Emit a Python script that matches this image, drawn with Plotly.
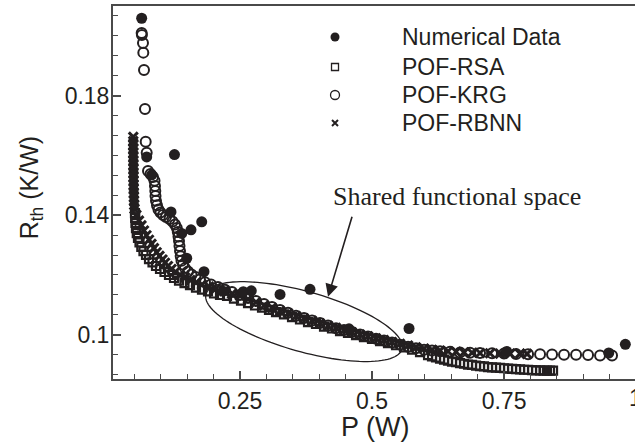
import numpy as np
import plotly.graph_objects as go

# ---------------- data ----------------
num_p = [0.0638, 0.0733, 0.1259, 0.0828, 0.1193, 0.1775, 0.1572, 0.1396, 0.1491, 0.1818,
         0.2178, 0.2563, 0.2714, 0.3258, 0.3826, 0.4564, 0.5701, 0.7551, 0.9483, 0.9797]
num_r = [0.2059, 0.1595, 0.1603, 0.1535, 0.1411, 0.1378, 0.1351, 0.1339, 0.1256, 0.1211,
         0.1146, 0.1144, 0.1147, 0.1135, 0.1152, 0.1020, 0.1021, 0.0944, 0.0939, 0.0968]

rsa_p = [0.0511, 0.0515, 0.0521, 0.0530, 0.0545, 0.0568, 0.0597, 0.0631, 0.0672, 0.0720,
         0.0777, 0.0843, 0.0909, 0.0985, 0.1070, 0.1155, 0.1250, 0.1345, 0.1449, 0.1553,
         0.1667, 0.1780, 0.1894, 0.2008, 0.2121, 0.2254, 0.2386, 0.2519, 0.2652, 0.2784,
         0.2917, 0.3049, 0.3182, 0.3333, 0.3485, 0.3636, 0.3788, 0.3939, 0.4091, 0.4242,
         0.4394, 0.4545, 0.4697, 0.4848, 0.5000, 0.5152, 0.5303, 0.5455, 0.5606, 0.5758,
         0.5909, 0.6061, 0.6212, 0.6364, 0.6515, 0.6667, 0.6818, 0.6970, 0.7121, 0.7273,
         0.7424, 0.7576, 0.7727, 0.7879, 0.8030, 0.8182, 0.8314, 0.8428,
         0.6136, 0.6288, 0.6439, 0.6591, 0.6742, 0.6894, 0.7045, 0.7197, 0.7348, 0.7500,
         0.7652, 0.7803, 0.7955, 0.8106, 0.8248, 0.8371]
rsa_r = [0.1407, 0.1391, 0.1374, 0.1357, 0.1340, 0.1324, 0.1309, 0.1294, 0.1280, 0.1267,
         0.1253, 0.1242, 0.1230, 0.1220, 0.1210, 0.1200, 0.1190, 0.1181, 0.1173, 0.1166,
         0.1158, 0.1151, 0.1145, 0.1138, 0.1133, 0.1130, 0.1121, 0.1114, 0.1106, 0.1098,
         0.1091, 0.1083, 0.1076, 0.1068, 0.1059, 0.1051, 0.1042, 0.1036, 0.1027, 0.1021,
         0.1012, 0.1006, 0.0999, 0.0992, 0.0986, 0.0979, 0.0972, 0.0965, 0.0958, 0.0950,
         0.0942, 0.0932, 0.0924, 0.0917, 0.0910, 0.0905, 0.0900, 0.0897, 0.0894, 0.0891,
         0.0889, 0.0887, 0.0885, 0.0883, 0.0882, 0.0881, 0.0880, 0.0880,
         0.0928, 0.0920, 0.0913, 0.0908, 0.0903, 0.0899, 0.0895, 0.0892, 0.0890, 0.0888,
         0.0886, 0.0884, 0.0883, 0.0881, 0.0880, 0.0880]

krg_p = [0.0638, 0.0642, 0.0663, 0.0669, 0.0682, 0.0701, 0.0714, 0.0733, 0.0758,
         0.0805, 0.0852, 0.0881, 0.0890, 0.0896, 0.0900, 0.0909, 0.0928, 0.0956, 0.0994,
         0.1042, 0.1098, 0.1165, 0.1222, 0.1269, 0.1303, 0.1322, 0.1335, 0.1345, 0.1354,
         0.1364, 0.1377, 0.1392, 0.1420, 0.1458, 0.1515, 0.1581, 0.1657, 0.1742, 0.1837,
         0.1951, 0.2083, 0.2216, 0.2348, 0.2500, 0.2652, 0.2803, 0.2955, 0.3106, 0.3258,
         0.3409, 0.3561, 0.3712, 0.3864, 0.4015, 0.4167, 0.4318, 0.4470, 0.4621, 0.4773,
         0.4924, 0.5076, 0.5227, 0.5379, 0.5530, 0.5682, 0.5833, 0.5985, 0.6136, 0.6288,
         0.6477, 0.6667, 0.6856, 0.7045, 0.7273, 0.7500, 0.7727, 0.7955, 0.8182, 0.8409,
         0.8636, 0.8864, 0.9091, 0.9318, 0.9545]
krg_r = [0.2010, 0.2003, 0.1976, 0.1944, 0.1886, 0.1755, 0.1646, 0.1609, 0.1548,
         0.1538, 0.1528, 0.1515, 0.1498, 0.1481, 0.1464, 0.1448, 0.1433, 0.1419, 0.1409,
         0.1401, 0.1394, 0.1387, 0.1379, 0.1369, 0.1357, 0.1344, 0.1329, 0.1314, 0.1297,
         0.1280, 0.1263, 0.1248, 0.1235, 0.1223, 0.1212, 0.1202, 0.1193, 0.1185, 0.1176,
         0.1168, 0.1160, 0.1151, 0.1143, 0.1133, 0.1123, 0.1113, 0.1103, 0.1093, 0.1083,
         0.1074, 0.1064, 0.1056, 0.1048, 0.1039, 0.1031, 0.1022, 0.1016, 0.1009, 0.1001,
         0.0994, 0.0987, 0.0981, 0.0974, 0.0967, 0.0960, 0.0955, 0.0950, 0.0947, 0.0945,
         0.0943, 0.0941, 0.0940, 0.0939, 0.0938, 0.0937, 0.0936, 0.0935, 0.0935, 0.0934,
         0.0933, 0.0933, 0.0932, 0.0931, 0.0931]

rbnn_p = [0.0479, 0.0479, 0.0479, 0.0479, 0.0479, 0.0481, 0.0481, 0.0481, 0.0483, 0.0483,
          0.0483, 0.0485, 0.0485, 0.0487, 0.0489, 0.0491, 0.0492, 0.0496,
          0.0502, 0.0538, 0.0587, 0.0634, 0.0682, 0.0729, 0.0777, 0.0824, 0.0871, 0.0922,
          0.0975, 0.1032, 0.1080, 0.1136, 0.1203, 0.1278, 0.1364, 0.1458, 0.1563, 0.1667,
          0.1780, 0.1913, 0.2045, 0.2197, 0.2348, 0.2500,
          0.2652, 0.2803, 0.2955, 0.3106, 0.3258,
          0.3409, 0.3561, 0.3712, 0.3864, 0.4015, 0.4167, 0.4318, 0.4470, 0.4621, 0.4773,
          0.4924, 0.5076, 0.5227, 0.5379, 0.5530, 0.5682, 0.5833, 0.5985, 0.6136, 0.6288,
          0.6439, 0.6591, 0.6742, 0.6894, 0.7045, 0.7235, 0.7424, 0.7614, 0.7803, 0.7936]
rbnn_r = [0.1662, 0.1648, 0.1635, 0.1622, 0.1608, 0.1595, 0.1582, 0.1568, 0.1555, 0.1541,
          0.1528, 0.1515, 0.1501, 0.1488, 0.1474, 0.1461, 0.1448, 0.1434,
          0.1421, 0.1401, 0.1382, 0.1366, 0.1349, 0.1333, 0.1318, 0.1304, 0.1290, 0.1276,
          0.1264, 0.1252, 0.1241, 0.1230, 0.1220, 0.1211, 0.1201, 0.1192, 0.1183, 0.1175,
          0.1168, 0.1161, 0.1155, 0.1146, 0.1137, 0.1130,
          0.1119, 0.1109, 0.1098, 0.1090, 0.1080,
          0.1072, 0.1063, 0.1055, 0.1047, 0.1038, 0.1030, 0.1023, 0.1015, 0.1008, 0.1001,
          0.0995, 0.0988, 0.0982, 0.0976, 0.0970, 0.0964, 0.0958, 0.0954, 0.0950, 0.0947,
          0.0945, 0.0943, 0.0941, 0.0940, 0.0939, 0.0938, 0.0937, 0.0937, 0.0937, 0.0936]

series_names = ["Numerical Data", "POF-RSA", "POF-KRG", "POF-RBNN"]
x_tickvals = [0.25, 0.5, 0.75]
x_ticktext = ["0.25", "0.5", "0.75"]
y_tickvals = [0.1, 0.14, 0.18]
y_ticktext = ["0.1", "0.14", "0.18"]

# ---------------- styles ----------------
INK = "#231f20"
AX = "#4a4a4a"
FONT = "Liberation Sans, Arial, sans-serif"
SERIF = "Liberation Serif, Times New Roman, serif"

styles = {
    "Numerical Data": dict(symbol="circle", size=11, color=INK, line=dict(width=0)),
    "POF-RSA": dict(symbol="square-open", size=8, color=INK, line=dict(width=2.2, color=INK)),
    "POF-KRG": dict(symbol="circle-open", size=10, color=INK, line=dict(width=2.0, color=INK)),
    "POF-RBNN": dict(symbol="x-thin", size=9, color=INK, line=dict(width=3.0, color=INK)),
}
legend_styles = {
    "Numerical Data": dict(symbol="circle", size=9, color=INK, line=dict(width=0)),
    "POF-RSA": dict(symbol="square-open", size=7, color=INK, line=dict(width=1.3, color=INK)),
    "POF-KRG": dict(symbol="circle-open", size=9, color=INK, line=dict(width=1.3, color=INK)),
    "POF-RBNN": dict(symbol="x-thin", size=6, color=INK, line=dict(width=2, color=INK)),
}

fig = go.Figure()
for name, xs, ys in [("POF-RSA", rsa_p, rsa_r), ("POF-KRG", krg_p, krg_r),
                     ("POF-RBNN", rbnn_p, rbnn_r), ("Numerical Data", num_p, num_r)]:
    fig.add_trace(go.Scatter(x=xs, y=ys, mode="markers", name=name,
                             marker=styles[name], showlegend=False, hoverinfo="x+y+name"))

# hand-placed legend (overlay axes spanning the plot area, 0..1)
leg_x_sym = 0.4253
leg_x_txt = 0.5490
leg_rows = [0.917, 0.8365, 0.7614, 0.6863]
for name, yy in zip(series_names, leg_rows):
    fig.add_trace(go.Scatter(x=[leg_x_sym], y=[yy], xaxis="x2", yaxis="y2", mode="markers",
                             marker=legend_styles[name], showlegend=False, hoverinfo="skip"))
    fig.add_annotation(x=leg_x_txt, y=yy, xref="paper", yref="paper", text=name,
                       showarrow=False, xanchor="left", yanchor="middle",
                       font=dict(family=FONT, size=23, color=INK))

# ellipse marking the shared functional space
ell_c = (0.3712, 0.1044)
ell_a = (0.1856, -0.00921)
ell_b = (-0.01534, -0.00968)
t = np.linspace(0, 2 * np.pi, 121)
ex = ell_c[0] + np.cos(t) * ell_a[0] + np.sin(t) * ell_b[0]
ey = ell_c[1] + np.cos(t) * ell_a[1] + np.sin(t) * ell_b[1]
path = "M " + " L ".join(f"{a:.5f},{b:.5f}" for a, b in zip(ex, ey)) + " Z"
fig.add_shape(type="path", path=path, xref="x", yref="y",
              line=dict(color=INK, width=1.3), fillcolor="rgba(0,0,0,0)")

fig.add_annotation(x=0.4167, y=0.1127, ax=0.4630, ay=0.1400, xref="x", yref="y",
                   axref="x", ayref="y", text="", showarrow=True,
                   arrowhead=2, arrowsize=1.6, arrowwidth=1.6, arrowcolor=INK)
fig.add_annotation(x=0.661, y=0.1464, xref="x", yref="y", text="Shared functional space",
                   showarrow=False, font=dict(family=SERIF, size=26, color=INK))

# axis titles
fig.add_annotation(x=0.502, y=-0.128, xref="paper", yref="paper", text="P (W)",
                   showarrow=False, xanchor="center", yanchor="middle",
                   font=dict(family=FONT, size=27, color=INK))
fig.add_annotation(x=-0.157, y=0.514, xref="paper", yref="paper", text="R<sub>th</sub> (K/W)",
                   textangle=-90, showarrow=False, xanchor="center", yanchor="middle",
                   font=dict(family=FONT, size=25, color=INK))
# partially visible "1" tick label at the right edge
fig.add_annotation(x=1.0019, y=-0.051, xref="paper", yref="paper", text="1",
                   showarrow=False, xanchor="center", yanchor="middle",
                   font=dict(family=FONT, size=23, color=INK))

fig.update_layout(
    width=635, height=446,
    margin=dict(l=113, r=0, t=6, b=67, autoexpand=False),
    paper_bgcolor="white", plot_bgcolor="white",
    font=dict(family=FONT, size=23, color=INK),
    showlegend=False,
    xaxis=dict(range=[0.0095, 0.998], tickvals=x_tickvals, ticktext=x_ticktext,
               ticks="inside", ticklen=8, tickwidth=1.5, tickcolor=AX,
               showline=True, linecolor=AX, linewidth=2, mirror=True,
               showgrid=False, zeroline=False, automargin=False,
               minor=dict(dtick=0.05, tick0=0, ticks="inside", ticklen=5,
                          tickwidth=1.2, tickcolor=AX, showgrid=False),
               tickfont=dict(size=23, color=INK)),
    yaxis=dict(range=[0.0852, 0.2100], tickvals=y_tickvals, ticktext=y_ticktext,
               ticks="inside", ticklen=8, tickwidth=1.5, tickcolor=AX,
               showline=True, linecolor=AX, linewidth=2, mirror=False,
               showgrid=False, zeroline=False, automargin=False, ticklabelstandoff=-3,
               minor=dict(dtick=0.04 / 6, tick0=0.1, ticks="inside", ticklen=5,
                          tickwidth=1.2, tickcolor=AX, showgrid=False),
               tickfont=dict(size=23, color=INK)),
    xaxis2=dict(overlaying="x", range=[0, 1], visible=False, fixedrange=True),
    yaxis2=dict(overlaying="y", range=[0, 1], visible=False, fixedrange=True),
)

fig.write_html("out.html", config={"displayModeBar": False},
               post_script="document.body.style.margin='0';document.body.style.overflow='hidden';")
